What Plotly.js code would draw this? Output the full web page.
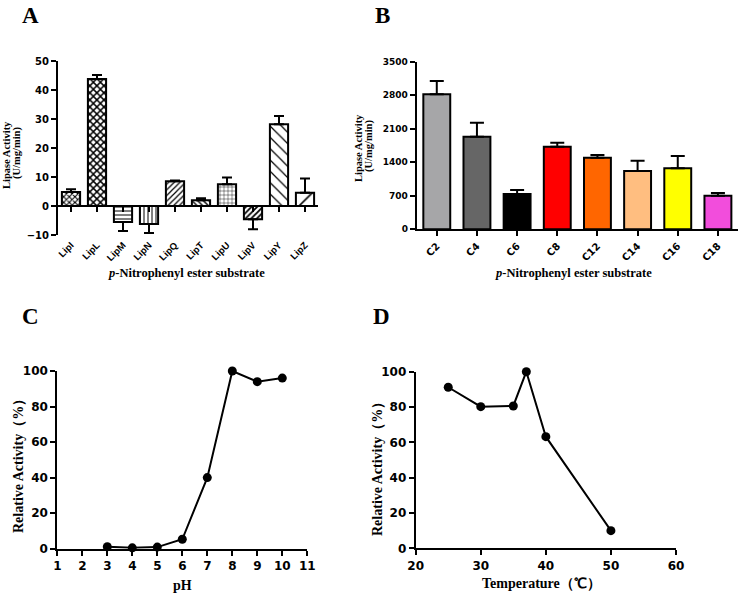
<!DOCTYPE html>
<html>
<head>
<meta charset="utf-8">
<script src="https://cdn.plot.ly/plotly-3.0.1.min.js"></script>
<style>html,body{margin:0;padding:0;background:#fff;} #chart{width:741px;height:594px;}</style>
</head>
<body>
<div id="chart"></div>
<script>
// ---------- DATA ----------
const aCategories = ['LipI','LipL','LipM','LipN','LipQ','LipT','LipU','LipV','LipY','LipZ'];
const aValues = [4.8, 43.8, -5.5, -6.2, 8.5, 2.0, 7.5, -4.6, 28.2, 4.6];
const aErrors = [1.0, 1.4, 3.1, 3.1, 0.3, 0.7, 2.3, 3.4, 2.8, 4.9];
const aYTicks = [-10, 0, 10, 20, 30, 40, 50];

const bCategories = ['C2','C4','C6','C8','C12','C14','C16','C18'];
const bValues = [2820, 1935, 737, 1725, 1495, 1217, 1274, 702];
const bErrors = [277, 292, 84, 84, 57, 216, 257, 56];
const bYTicks = [0, 700, 1400, 2100, 2800, 3500];

const cPH = [3, 4, 5, 6, 7, 8, 9, 10];
const cActivity = [1.1, 0.5, 0.9, 5.3, 40, 100, 94, 96];
const cXTicks = [1,2,3,4,5,6,7,8,9,10,11];

const dTemperature = [25, 30, 35, 37, 40, 50];
const dActivity = [91.2, 80.2, 80.6, 100, 63.2, 10.0];
const dXTicks = [20, 30, 40, 50, 60];
const relYTicks = [0, 20, 40, 60, 80, 100];

// ---------- STYLE ----------
const W = 741, H = 594;
const px = v => v / W;
const py = v => 1 - v / H;
const sans = 'Liberation Sans, Arial, sans-serif';
const wide = 'DejaVu Sans, Verdana, sans-serif';
const serif = 'Liberation Serif, Times New Roman, serif';
const aPatShapes = ['x','x','-','|','/','\\','+','/','\\','/'];
const aPatSizes  = [4, 5, 4, 4, 4, 4, 4, 4, 8, 13];
const aPatSolid  = [0.45, 0.5, 0.25, 0.25, 0.3, 0.35, 0.2, 0.45, 0.15, 0.12];
const bColors = ['#a6a6a8','#666666','#000000','#ff0000','#ff6600','#ffbe80','#ffff00','#f24ddc'];

const domA = {x:[px(58), px(318)], y:[py(235), py(61)]};
const domB = {x:[px(416.7), px(738)], y:[py(229.3), py(61.7)]};
const domC = {x:[px(57.3), px(307.3)], y:[py(548.7), py(371)]};
const domD = {x:[px(415.7), px(676)], y:[py(548.3), py(371.7)]};
const aRange = [-10, 50];
const zeroPosA = domA.y[0] + (0 - aRange[0]) / (aRange[1] - aRange[0]) * (domA.y[1] - domA.y[0]);

const tickFont = (s, fam) => ({family: fam || wide, size: s, color: '#000', weight: 'bold'});
const axBase = {
  showgrid: false, zeroline: false, showline: true, linecolor: '#000', linewidth: 2,
  ticks: 'outside', ticklen: 5, tickwidth: 2, tickcolor: '#000', fixedrange: true
};

const traces = [
  {
    type: 'bar', x: aCategories, y: aValues, xaxis: 'x', yaxis: 'y', width: 0.7,
    marker: {color: '#fff', line: {color: '#000', width: 2},
      pattern: {shape: aPatShapes, size: aPatSizes, solidity: aPatSolid, fgcolor: '#000', bgcolor: '#fff', fillmode: 'replace'}},
    error_y: {type: 'data', symmetric: false,
      array: aValues.map((v, i) => v >= 0 ? aErrors[i] : 0),
      arrayminus: aValues.map((v, i) => v < 0 ? aErrors[i] : 0),
      color: '#000', thickness: 2, width: 5},
    hoverinfo: 'skip', cliponaxis: false
  },
  {
    type: 'bar', x: bCategories, y: bValues, xaxis: 'x2', yaxis: 'y2', width: 0.67,
    marker: {color: bColors, line: {color: '#000', width: 2}},
    error_y: {type: 'data', symmetric: false, array: bErrors, arrayminus: bErrors.map(() => 0),
      color: '#000', thickness: 2, width: 7},
    hoverinfo: 'skip', cliponaxis: false
  },
  {
    type: 'scatter', mode: 'lines+markers', x: cPH, y: cActivity, xaxis: 'x3', yaxis: 'y3',
    line: {color: '#000', width: 2}, marker: {color: '#000', size: 9}, cliponaxis: false, hoverinfo: 'skip'
  },
  {
    type: 'scatter', mode: 'lines+markers', x: dTemperature, y: dActivity, xaxis: 'x4', yaxis: 'y4',
    line: {color: '#000', width: 2}, marker: {color: '#000', size: 9}, cliponaxis: false, hoverinfo: 'skip'
  }
];

const ann = (text, x, y, size, angle, extra) => Object.assign({
  text, xref: 'paper', yref: 'paper', x: px(x), y: py(y), xanchor: 'center', yanchor: 'middle',
  showarrow: false, textangle: angle || 0, font: {family: serif, size: size, color: '#000', weight: 'bold'}
}, extra || {});

const layout = {
  width: W, height: H, margin: {l: 0, r: 0, t: 0, b: 0},
  paper_bgcolor: '#fff', plot_bgcolor: 'rgba(0,0,0,0)', showlegend: false,
  xaxis: Object.assign({}, axBase, {domain: domA.x, anchor: 'free', position: zeroPosA, range: [-0.5, 9.5],
    type: 'category', tickangle: -45, tickfont: tickFont(9.5, sans), ticklen: 5, ticklabelstandoff: 24}),
  yaxis: Object.assign({}, axBase, {domain: domA.y, anchor: 'x', range: aRange, tickvals: aYTicks, tickfont: tickFont(10)}),
  xaxis2: Object.assign({}, axBase, {domain: domB.x, anchor: 'y2', range: [-0.5, 7.5], type: 'category',
    tickangle: -45, tickfont: tickFont(10), ticklen: 5}),
  yaxis2: Object.assign({}, axBase, {domain: domB.y, anchor: 'x2', range: [0, 3500], tickvals: bYTicks, tickfont: tickFont(9)}),
  xaxis3: Object.assign({}, axBase, {domain: domC.x, anchor: 'y3', range: [1, 11], tickvals: cXTicks, tickfont: tickFont(12)}),
  yaxis3: Object.assign({}, axBase, {domain: domC.y, anchor: 'x3', range: [0, 100], tickvals: relYTicks, tickfont: tickFont(12)}),
  xaxis4: Object.assign({}, axBase, {domain: domD.x, anchor: 'y4', range: [20, 60], tickvals: dXTicks, tickfont: tickFont(12)}),
  yaxis4: Object.assign({}, axBase, {domain: domD.y, anchor: 'x4', range: [0, 100], tickvals: relYTicks, tickfont: tickFont(12)}),
  annotations: [
    ann('A', 30, 15, 23), ann('B', 382, 15, 23), ann('C', 30, 316, 23), ann('D', 381, 316, 23),
    ann('Lipase Activity', 6, 155, 10.5, -90),
    ann('(U/mg/min)', 17, 153, 10.5, -90),
    ann('Lipase Activity', 358, 148, 10.5, -90),
    ann('(U/mg/min)', 369, 146, 10.5, -90),
    ann('<i>p</i>-Nitrophenyl ester substrate', 186, 273, 12.5),
    ann('<i>p</i>-Nitrophenyl ester substrate', 573, 273, 12.5),
    ann('Relative Activity（%）', 19, 463, 14, -90),
    ann('Relative Activity（%）', 377, 466, 14, -90),
    ann('pH', 182, 585, 14),
    ann('Temperature（℃）', 541, 583, 14)
  ]
};

Plotly.newPlot('chart', traces, layout, {staticPlot: true, displayModeBar: false});
</script>
</body>
</html>
